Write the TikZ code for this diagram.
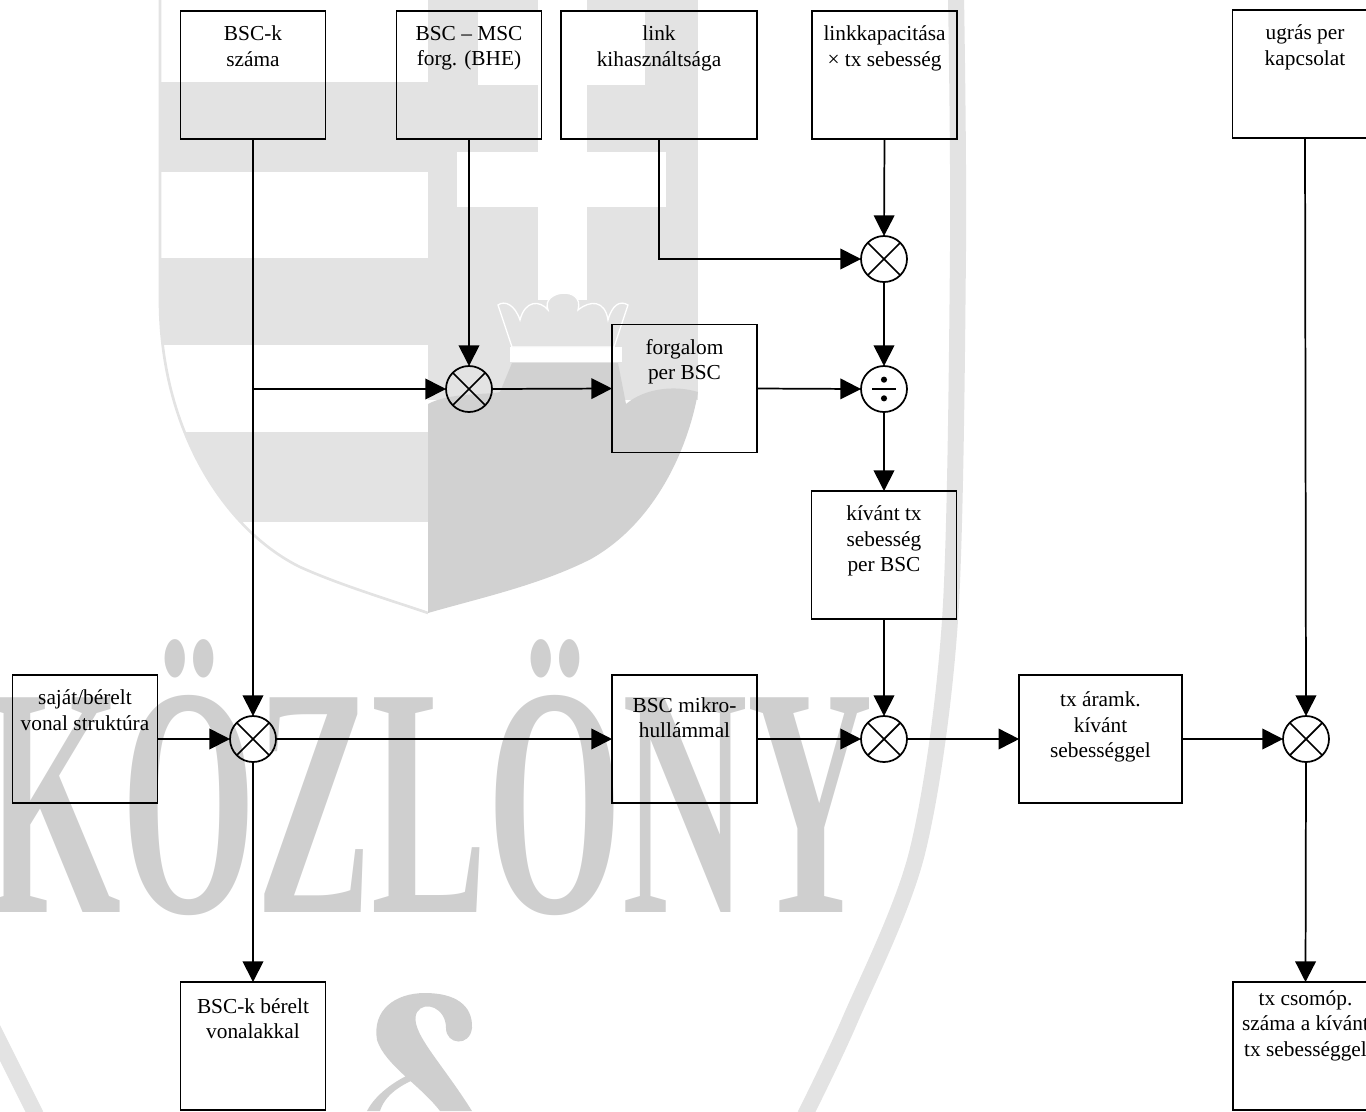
\documentclass[tikz,border=0pt]{standalone}
\usepackage{fontspec}
\setmainfont{Liberation Serif}
\usetikzlibrary{arrows.meta,positioning}
\definecolor{wmlight}{gray}{.89}
\definecolor{wmdark}{gray}{.82}
\definecolor{wmword}{gray}{.81}
\tikzset{
  blockbox/.style={draw,rectangle,line width=1.3pt,inner sep=0pt,outer sep=0pt,minimum width=108.75pt,minimum height=96pt},
  boxtext/.style={anchor=north,align=center,inner sep=0pt,font=\fontsize{16}{19.1}\selectfont,execute at begin node=\strut},
  flowline/.style={line width=1.3pt,-{Triangle[length=15.5pt,width=15.5pt]}},
  opnode/.style={draw,circle,line width=1.3pt,inner sep=0pt,outer sep=0pt,minimum size=34.5pt},
  mulnode/.style={opnode,path picture={
    \draw[line width=1.3pt] (path picture bounding box.north west) -- (path picture bounding box.south east);
    \draw[line width=1.3pt] (path picture bounding box.north east) -- (path picture bounding box.south west);}},
  divnode/.style={opnode,path picture={
    \draw[line width=1.3pt] ([xshift=-8.7pt]path picture bounding box.center) -- ([xshift=8.7pt]path picture bounding box.center);
    \fill ([yshift=7pt]path picture bounding box.center) circle (2.3pt);
    \fill ([yshift=-7pt]path picture bounding box.center) circle (2.3pt);}}
}
\begin{document}
\begin{tikzpicture}[x=.75pt,y=-.75pt]
   \useasboundingbox (0,0) rectangle (1366,1111);
   % seal ring
   \draw[wmlight,line width=12pt] plot[smooth] coordinates {(956,-5) (958,250) (950,620) (917,853) (850,1020) (805,1115)};
   \draw[wmlight,line width=12pt] (-14,1015) -- (36,1115);
   % shield, left half
   \begin{scope}
     \clip (160,0) -- (160,300) .. controls (160,430) and (225,530) .. (300,567) .. controls (340,585) and (390,600) .. (428,613) -- (428,0) -- cycle;
     \fill[wmlight] (150,82) rectangle (428,172);
     \fill[wmlight] (150,258) rectangle (428,345);
     \fill[wmlight] (150,432) rectangle (428,522);
   \end{scope}
   \draw[wmlight,line width=2pt] (160,0) -- (160,300) .. controls (160,430) and (225,530) .. (300,567) .. controls (340,585) and (390,600) .. (428,613);
   % shield, right half
   \fill[wmlight] (428,0) rectangle (698,400);
   \fill[white] (538,0) rectangle (587,300);
   \fill[white] (478,12) rectangle (645,85);
   \fill[white] (457,152) rectangle (666,207);
   \fill[wmdark] (428,404) .. controls (450,392) and (490,395) .. (500,392) -- (512,363) -- (618,363) -- (626,404) .. controls (645,388) and (675,385) .. (698,392) .. controls (690,440) and (660,520) .. (591,559) .. controls (540,585) and (480,598) .. (428,613) -- cycle;
   % crown
   \fill[white] (510,347) rectangle (622,362);
   \fill[wmlight,draw=white,line width=1pt] (498,305) .. controls (505,300) and (515,305) .. (520,320) .. controls (525,300) and (540,300) .. (548,310) .. controls (540,290) and (585,285) .. (578,310) .. controls (590,300) and (605,300) .. (608,320) .. controls (612,305) and (620,300) .. (628,305) -- (614,347) -- (512,347) -- cycle;
   % big S
   \fill[wmword] (377,1040) .. controls (372,1010) and (395,993) .. (425,993) .. controls (455,993) and (473,1005) .. (472,1028) .. controls (470,1047) and (446,1045) .. (446,1028) .. controls (446,1008) and (425,1000) .. (417,1012) .. controls (408,1030) and (440,1060) .. (472,1111) -- (440,1111) .. controls (420,1085) and (385,1065) .. (377,1040) -- cycle;
   \fill[wmword] (367,1111) .. controls (375,1095) and (395,1080) .. (415,1072) -- (420,1077) .. controls (400,1085) and (385,1095) .. (380,1111) -- cycle;
   % word
   \node (wmtext) at (-14,912) [anchor=base west,inner sep=0pt,text=wmword,xscale=.529,transform shape,font=\fontsize{246}{246}\selectfont\bfseries] {KÖZLÖNY};

   % top row
   \node (bsck) at (253,75) [blockbox] {};
   \node (bsckt) [boxtext,below=11pt of bsck.north] {BSC-k\\száma};
   \node (bhe) at (469,75) [blockbox] {};
   \node (bhet) [boxtext,below=11pt of bhe.north] {BSC – MSC\\forg. (BHE)};
   \node (link) at (659,75) [blockbox,minimum width=147pt] {};
   \node (linkt) [boxtext,below=11pt of link.north] {link\\kihasználtsága};
   \node (cap) at (884.5,75) [blockbox] {};
   \node (capt) [boxtext,below=11pt of cap.north] {linkkapacitása\\× tx sebesség};
   \node (hop) at (1305,74) [blockbox] {};
   \node (hopt) [boxtext,below=11pt of hop.north] {ugrás per\\kapcsolat};
   % middle
   \node (mula) at (884,259) [mulnode] {};
   \node (divc) at (884,389) [divnode] {};
   \node (mulb) at (469,389) [mulnode] {};
   \node (traf) at (684.5,388.5) [blockbox] {};
   \node (traft) [boxtext,below=11pt of traf.north] {forgalom\\per BSC};
   \node (rate) at (884,555) [blockbox] {};
   \node (ratet) [boxtext,below=11pt of rate.north] {kívánt tx\\sebesség\\per BSC};
   % main row
   \node (own) at (85,739) [blockbox] {};
   \node (ownt) [boxtext,below=11pt of own.north] {saját/bérelt\\vonal struktúra};
   \node (mulc) at (253,739) [mulnode] {};
   \node (micro) at (684.5,739) [blockbox] {};
   \node (microt) [boxtext,below=16.5pt of micro.north] {BSC mikro-\\hullámmal};
   \node (muld) at (884,739) [mulnode] {};
   \node (circ) at (1100.5,739) [blockbox,minimum width=122pt] {};
   \node (circt) [boxtext,below=12.5pt of circ.north] {tx áramk.\\kívánt\\sebességgel};
   \node (mule) at (1306,739) [mulnode] {};
   % bottom
   \node (lease) at (253,1046) [blockbox] {};
   \node (leaset) [boxtext,below=12pt of lease.north] {BSC-k bérelt\\vonalakkal};
   \node (node) at (1305.5,1046) [blockbox] {};
   \node (nodet) [boxtext,below=6pt of node.north] {tx csomóp.\\száma a kívánt\\tx sebességgel};

   % connectors
   \coordinate (tap) at (bsck.south |- mulb.west);
   \draw[flowline] (bsck.south) -- (mulc.north);
   \draw[flowline] (tap) -- (mulb.west);
   \draw[flowline] (bhe.south) -- (mulb.north);
   \draw[flowline] (mulb.east) -- (traf.west);
   \draw[flowline] (link.south) |- (mula.west);
   \draw[flowline] (cap.south) -- (mula.north);
   \draw[flowline] (mula.south) -- (divc.north);
   \draw[flowline] (traf.east) -- (divc.west);
   \draw[flowline] (divc.south) -- (rate.north);
   \draw[flowline] (rate.south) -- (muld.north);
   \draw[flowline] (own.east) -- (mulc.west);
   \draw[flowline] (mulc.east) -- (micro.west);
   \draw[flowline] (micro.east) -- (muld.west);
   \draw[flowline] (muld.east) -- (circ.west);
   \draw[flowline] (circ.east) -- (mule.west);
   \draw[flowline] (hop.south) -- (mule.north);
   \draw[flowline] (mule.south) -- (node.north);
   \draw[flowline] (mulc.south) -- (lease.north);
\end{tikzpicture}
\end{document}
